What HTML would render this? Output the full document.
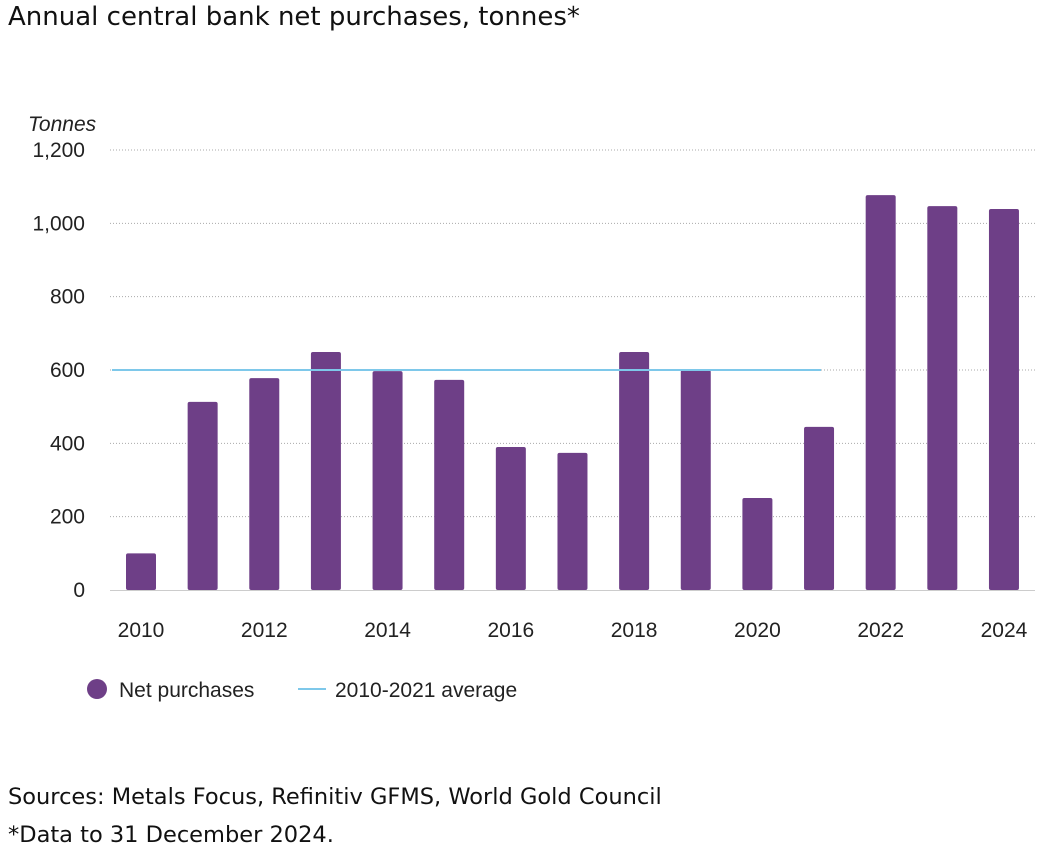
<!DOCTYPE html>
<html><head><meta charset="utf-8"><style>
body{margin:0;background:#fff;width:1042px;height:852px;overflow:hidden;font-family:"Liberation Sans",sans-serif;}
.t{position:absolute;left:8px;font-family:"DejaVu Sans","Liberation Sans",sans-serif;color:#111;white-space:nowrap;}
</style></head><body>
<div class="t" style="top:2px;font-size:26px;">Annual central bank net purchases, tonnes*</div>
<svg id="c" width="1042" height="852" style="position:absolute;left:0;top:0"></svg>
<div class="t" style="top:784px;font-size:22.5px;">Sources: Metals Focus, Refinitiv GFMS, World Gold Council</div>
<div class="t" style="top:822px;font-size:22.5px;">*Data to 31 December 2024.</div>
<script>
const years=[2010,2011,2012,2013,2014,2015,2016,2017,2018,2019,2020,2021,2022,2023,2024];
const purchases=[100,513,578,649,597,573,390,374,649,600,251,445,1077,1047,1039];
const yTicks=[0,200,400,600,800,1000,1200];
const tickLabels=["0","200","400","600","800","1,000","1,200"];
const xLabelYears=[2010,2012,2014,2016,2018,2020,2022,2024];
const average=[600];
const avgRange=[2010,2021];
const NS="http://www.w3.org/2000/svg",svg=document.getElementById('c');
const y=v=>590-v*(440/1200);
const x=yr=>141+(yr-2010)*61.64;
function mk(t,a,txt){const e=document.createElementNS(NS,t);for(const k in a)e.setAttribute(k,a[k]);if(txt!=null)e.textContent=txt;svg.appendChild(e);return e;}
yTicks.forEach((v,i)=>{
 if(v>0){const g=mk('line',{x1:110,x2:1035,y1:y(v),y2:y(v),stroke:'#aaa','stroke-width':1,'stroke-dasharray':'1,2'});
 
 }
 const t=mk('text',{x:85,y:y(v)+7,'text-anchor':'end','font-size':21,fill:'#222'},tickLabels[i]);
 
 
});
const yt=mk('text',{x:28,y:131,'font-size':21,'font-style':'italic',fill:'#222'},'Tonnes');


years.forEach((yr,i)=>{
 const b=mk('rect',{x:x(yr)-15,y:y(purchases[i]),width:30,height:590-y(purchases[i]),fill:'#6e3f87',rx:2});
 
 
});
const ax=mk('line',{x1:110,x2:1035,y1:590.5,y2:590.5,stroke:'#ccc','stroke-width':1});


const av=mk('line',{x1:x(avgRange[0])-29,x2:x(avgRange[1])+2,y1:y(average[0]),y2:y(average[0]),stroke:'#7ec8ea','stroke-width':2});


xLabelYears.forEach(yr=>{
 const t=mk('text',{x:x(yr),y:637,'text-anchor':'middle','font-size':21,fill:'#222'},String(yr));
 
 
});
const l1=mk('circle',{cx:97,cy:689,r:10,fill:'#6e3f87'});


const l1t=mk('text',{x:119,y:697,'font-size':21,fill:'#222'},'Net purchases');


const l2=mk('line',{x1:298,x2:326,y1:689,y2:689,stroke:'#7ec8ea','stroke-width':2});


const l2t=mk('text',{x:335,y:697,'font-size':21,fill:'#222'},'2010-2021 average');


</script>
</body></html>
